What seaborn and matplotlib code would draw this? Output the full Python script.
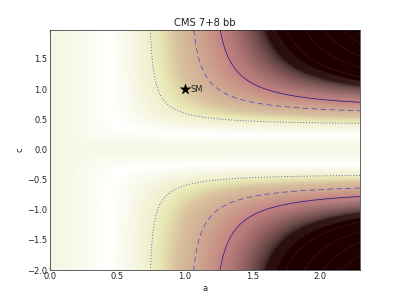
import numpy as np
import matplotlib
matplotlib.use("Agg")
import matplotlib.pyplot as plt
from matplotlib.colors import FuncNorm
import seaborn as sns

# ---- data / model parameters ----
A_MIN, A_MAX, A_STEP = 0.0, 2.3, 0.01      # vector coupling a
C_MIN, C_MAX, C_STEP = -2.0, 2.0, 0.02     # fermion coupling c
FERMION_WIDTH_FRACTION = 0.76              # share of SM width scaling with c^2
MU_HAT = 0.23                              # best-fit signal strength
SIGMA = 0.47                               # uncertainty on signal strength
SIGMA_LEVELS = [1.0, 2.43, 3.47]           # contour levels (in sigma)
LINE_STYLES = [(0, (1, 2.2)), (0, (8, 5)), "-"]
LINE_COLORS = ["#5252a6", "#4646bb", "#18188e"]
LINE_WIDTHS = [1.3, 1.0, 1.0]
# colour scale knots (sigma -> colormap fraction)
NORM_Q = [0.0, 1.0, 1.8, 2.43, 3.47, 5.5]
NORM_F = [0.0, 0.19, 0.42, 0.50, 0.62, 1.0]
SM_A = [1.0]
SM_C = [1.0]
SM_LABEL = "SM"
TITLE = "CMS 7+8 bb"
X_LABEL = "a"
Y_LABEL = "c"
X_TICKS = [0.0, 0.5, 1.0, 1.5, 2.0]
Y_TICKS = [-2.0, -1.5, -1.0, -0.5, 0.0, 0.5, 1.0, 1.5]

sns.set_theme(style="ticks", rc={
    "xtick.direction": "in", "ytick.direction": "in",
    "xtick.top": True, "ytick.right": True,
    "xtick.major.size": 4, "ytick.major.size": 4,
    "xtick.major.width": 0.5, "ytick.major.width": 0.5,
    "xtick.color": "#222222", "ytick.color": "#222222",
    "axes.edgecolor": "#222222", "axes.linewidth": 1.0,
    "font.size": 12, "axes.labelsize": 12, "axes.titlesize": 14.4,
    "xtick.labelsize": 12, "ytick.labelsize": 12,
    "axes.labelcolor": "#222222", "text.color": "#222222",
})
plt.rcParams["font.family"] = ["DejaVu Sans"]

a = np.arange(A_MIN, A_MAX + A_STEP / 2, A_STEP)
c = np.arange(C_MIN, C_MAX - C_STEP / 2, C_STEP)
AA, CC = np.meshgrid(a, c)
den = FERMION_WIDTH_FRACTION * CC**2 + (1 - FERMION_WIDTH_FRACTION) * AA**2
mu = np.where(den > 0, AA**2 * CC**2 / np.where(den > 0, den, 1.0), 0.0)
q = np.abs(mu - MU_HAT) / SIGMA

knots_q = np.array(NORM_Q)
knots_f = np.array(NORM_F)
norm = FuncNorm((lambda x: np.interp(x, knots_q, knots_f),
                 lambda y: np.interp(y, knots_f, knots_q)),
                vmin=knots_q[0], vmax=knots_q[-1])

fig = plt.figure(figsize=(8, 6), dpi=50)
ax = fig.add_axes([0.125, 0.1, 0.775, 0.8])

ax.contourf(a, c, q, levels=np.linspace(0, q.max(), 400), cmap="pink_r",
            norm=norm, antialiased=False)
# fine banding in the steep part of the surface
ax.contour(a, c, q, levels=np.arange(3.7, 6.0, 0.07), colors="#d8c8c8",
           linewidths=0.35, alpha=0.4, linestyles="-")
ax.contour(a, c, q, levels=np.arange(6.4, q.max(), 0.9), colors="#a09090",
           linewidths=0.35, alpha=0.45, linestyles="-")
ax.contour(a, c, q, levels=SIGMA_LEVELS, colors=LINE_COLORS,
           linestyles=LINE_STYLES, linewidths=LINE_WIDTHS)

sns.scatterplot(x=SM_A, y=SM_C, marker="*", s=260, color="black",
                edgecolor="black", linewidth=0.5, ax=ax, zorder=5, legend=False)
ax.annotate(SM_LABEL, xy=(SM_A[0], SM_C[0]), xytext=(8, -1),
            textcoords="offset points", va="center", ha="left", fontsize=12)

ax.set_xlim(a.min(), a.max())
ax.set_ylim(c.min(), c.max())
ax.set_xticks(X_TICKS)
ax.set_yticks(Y_TICKS)
ax.set_xlabel(X_LABEL)
ax.set_ylabel(Y_LABEL)
ax.set_title(TITLE)

fig.savefig("out.png", dpi=50)
